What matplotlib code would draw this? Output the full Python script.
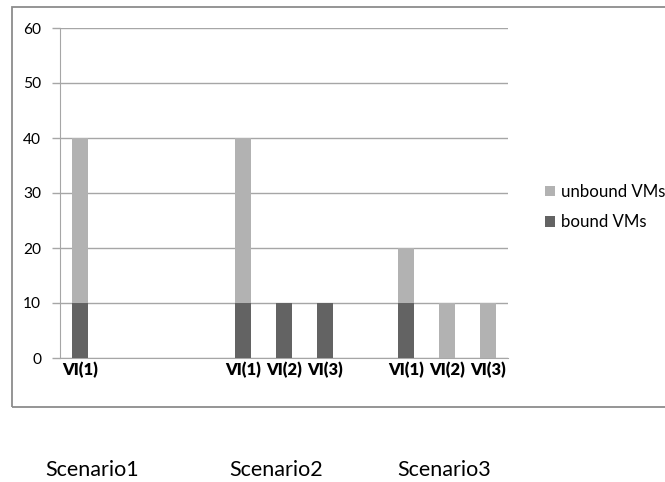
import matplotlib
matplotlib.use("Agg")
import matplotlib.pyplot as plt
from matplotlib.patches import Rectangle

categories = ['VI(1)', '', '', '', 'VI(1)', 'VI(2)', 'VI(3)', '', 'VI(1)', 'VI(2)', 'VI(3)']
bound_vms = [10, 0, 0, 0, 10, 10, 10, 0, 10, 0, 0]
unbound_vms = [30, 0, 0, 0, 30, 0, 0, 0, 10, 10, 10]
scenarios = ['Scenario1', 'Scenario2', 'Scenario3']
y_ticks = [0, 10, 20, 30, 40, 50, 60]

plt.rcParams['font.family'] = ['Lato', 'DejaVu Sans']

W, H = 665, 482
fig = plt.figure(figsize=(W / 100, H / 100), dpi=100)
renderer = fig.canvas.get_renderer()


def fit_size(text, target_px, weight='normal', base=10.0):
    t = fig.text(0, 0, text, fontsize=base, fontweight=weight)
    w = t.get_window_extent(renderer).width
    t.remove()
    return base * target_px / w


ytick_fs = fit_size('10', 18)
xtick_fs = fit_size('VI(1)', 35, weight='bold')
legend_fs = fit_size('unbound VMs', 104)
scen_fs = fit_size('Scenario1', 94)

# outer chart border (right edge runs off the image)
fig.patches.append(Rectangle((12 / W, 1 - 407 / H), (670 - 12) / W, (407 - 7) / H,
                             transform=fig.transFigure, fill=False,
                             edgecolor='#8c8c8c', linewidth=1.3))

ax = fig.add_axes([60 / W, 1 - 358 / H, (508 - 60) / W, (358 - 28) / H])
x = list(range(len(categories)))
grid_c = '#a6a6a6'
ax.set_axisbelow(True)
ax.yaxis.grid(True, color=grid_c, linewidth=1)
ax.bar(x, bound_vms, width=0.39, color='#636363', label='bound VMs', zorder=3)
ax.bar(x, unbound_vms, width=0.39, bottom=bound_vms, color='#b2b2b2', label='unbound VMs', zorder=3)

ax.set_xlim(-0.5, len(categories) - 0.5)
ax.set_ylim(0, 60)
ax.set_yticks(y_ticks)
ax.set_xticks(x)
ax.set_xticklabels(categories, fontweight='heavy', fontsize=xtick_fs)
ax.tick_params(axis='x', length=0, pad=3, colors='black')
ax.tick_params(axis='y', length=6, color=grid_c, width=1, labelsize=ytick_fs, pad=7.5)
for s in ['top', 'right']:
    ax.spines[s].set_visible(False)
ax.spines['left'].set_color(grid_c)
ax.spines['bottom'].set_color(grid_c)

handles, labels = ax.get_legend_handles_labels()
fig.legend(handles[::-1], labels[::-1], loc='center left',
           bbox_to_anchor=(530 / W, 1 - 207 / H), frameon=False,
           fontsize=legend_fs, handlelength=0.6, handleheight=0.6, handletextpad=0.36,
           labelspacing=0.85)

for label, px in zip(scenarios, [45, 229, 397]):
    fig.text(px / W, 1 - 470 / H, label, ha='left', va='center', fontsize=scen_fs)

fig.savefig('out.png', dpi=100)
